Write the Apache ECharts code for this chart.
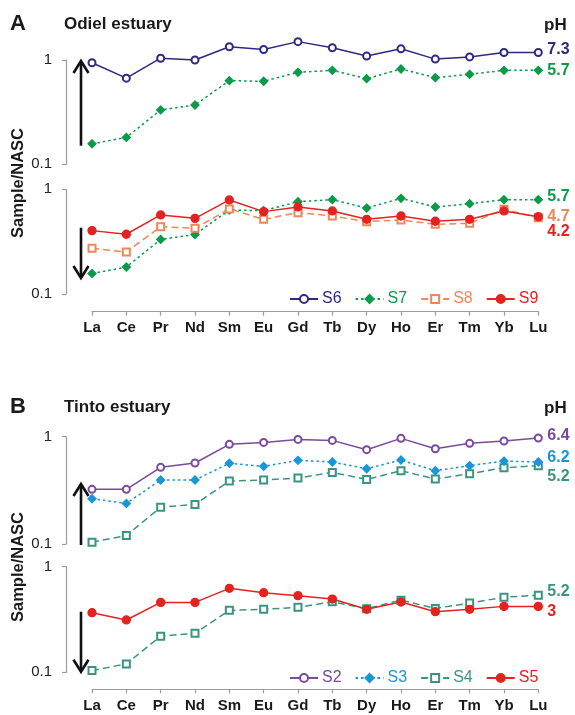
<!DOCTYPE html>
<html><head><meta charset="utf-8">
<script src="https://cdn.jsdelivr.net/npm/echarts@6/dist/echarts.min.js"></script>
<style>html,body{margin:0;padding:0;background:#fff}#c{width:575px;height:715px}</style>
</head><body><div id="c"></div>
<script>
const categories = ['La','Ce','Pr','Nd','Sm','Eu','Gd','Tb','Dy','Ho','Er','Tm','Yb','Lu'];
const yTicks = ['0.1','1'];
// Odiel estuary
const s6 = [0.94,0.67,1.04,1.00,1.34,1.26,1.50,1.31,1.09,1.28,1.02,1.07,1.18,1.18];
const s7 = [0.157,0.181,0.332,0.37,0.634,0.625,0.762,0.796,0.662,0.82,0.677,0.729,0.796,0.796];
const s8 = [0.273,0.252,0.44,0.424,0.649,0.517,0.598,0.556,0.491,0.509,0.463,0.473,0.644,0.536];
const s9 = [0.403,0.372,0.569,0.528,0.791,0.612,0.678,0.621,0.517,0.556,0.495,0.517,0.621,0.548];
// Tinto estuary
const s2 = [0.323,0.323,0.518,0.569,0.849,0.885,0.944,0.924,0.757,0.965,0.773,0.867,0.911,0.972];
const s3 = [0.264,0.239,0.395,0.395,0.565,0.529,0.602,0.581,0.503,0.606,0.482,0.537,0.593,0.581];
const s4 = [0.104,0.12,0.22,0.234,0.386,0.395,0.412,0.465,0.40,0.482,0.403,0.452,0.514,0.537];
const s5 = [0.367,0.313,0.459,0.459,0.624,0.567,0.532,0.494,0.395,0.463,0.375,0.395,0.421,0.421];
const phA = {S6:'7.3', S7:'5.7', S8:'4.7', S9:'4.2'};
const phB = {S2:'6.4', S3:'6.2', S4:'5.2', S5:'3'};

const FONT = "'Liberation Sans', Arial, sans-serif";
const C = {S6:'#2d2a80', S7:'#0b9a4a', S8:'#f0875a', S9:'#e3231f', S2:'#7a4a9c', S3:'#1896d8', S4:'#3a9482', S5:'#e3231f'};
const STY = {
  S6:{symbol:'emptyCircle', size:7, dash:'solid'},
  S2:{symbol:'emptyCircle', size:7, dash:'solid'},
  S7:{symbol:'diamond', size:8, dash:[2.5,3]},
  S3:{symbol:'diamond', size:8, dash:[2.5,3]},
  S8:{symbol:'emptyRect', size:7, dash:[7,4]},
  S4:{symbol:'emptyRect', size:7, dash:[7,4]},
  S9:{symbol:'circle', size:8, dash:'solid'},
  S5:{symbol:'circle', size:8, dash:'solid'}
};

const grids = [
  {left:92, width:446.3, top:60, height:104.3},
  {left:92, width:446.3, top:189.3, height:104.7},
  {left:92, width:446.3, top:436.7, height:107.3},
  {left:92, width:446.3, top:566.7, height:105.6}
];
const axisGray = '#9c9c9c';
const xAxes = grids.map((g,i)=>({
  type:'category', gridIndex:i, data:categories, boundaryGap:false,
  show: (i===1||i===3), position:'bottom', offset:(i===1?17.7:17),
  axisLine:{show:true, lineStyle:{color:axisGray, width:1.2}},
  axisTick:{show:true, length:4, lineStyle:{color:axisGray, width:1.2}},
  axisLabel:{fontFamily:FONT, fontWeight:'bold', fontSize:15, color:'#1a1a1a', margin:9, interval:0},
  splitLine:{show:false}
}));
const yAxes = grids.map((g,i)=>({
  type:'log', logBase:10, gridIndex:i, min:0.1, max:1, offset:26,
  axisLine:{show:true, lineStyle:{color:axisGray, width:1.2}},
  axisTick:{show:true, length:4, lineStyle:{color:axisGray, width:1.2}},
  axisLabel:{fontFamily:FONT, fontSize:15, color:'#222', margin:14,
    formatter:v=> (Math.abs(v-0.1)<1e-9? yTicks[0] : yTicks[1])},
  splitLine:{show:false}, minorTick:{show:false}
}));

function mk(name, data, gi, ph, dy){
  const st = STY[name];
  return {
    name, type:'line', data, xAxisIndex:gi, yAxisIndex:gi, clip:false,
    symbol:st.symbol, symbolSize:st.size, showSymbol:true,
    itemStyle:{color:C[name], borderColor:C[name], borderWidth:1.3},
    lineStyle:{color:C[name], width:1.5, type:st.dash},
    endLabel:{show:true, formatter:ph, color:C[name], fontFamily:FONT, fontWeight:'bold', fontSize:16, distance:9, offset:[0,dy]},
    emphasis:{disabled:true}, z:3
  };
}
const series = [
  mk('S7', s7, 0, phA.S7, 0),
  mk('S6', s6, 0, phA.S6, -3),
  mk('S7', s7, 1, phA.S7, -3),
  mk('S8', s8, 1, phA.S8, -1.5),
  mk('S9', s9, 1, phA.S9, 15),
  mk('S4', s4, 2, phB.S4, 11),
  mk('S3', s3, 2, phB.S3, -4),
  mk('S2', s2, 2, phB.S2, -2),
  mk('S4', s4, 3, phB.S4, -4),
  mk('S5', s5, 3, phB.S5, 5)
];

function legend(names, top){
  return {
    left:289, top:top, padding:0, itemWidth:28, itemHeight:10, itemGap:13,
    selectedMode:false,
    data: names.map(n=>({name:n, textStyle:{color:C[n]}})),
    textStyle:{fontFamily:FONT, fontSize:16, padding:[0,0,0,-1]}
  };
}

function arrow(x, y1, y2){
  const dir = y2 < y1 ? 1 : -1;
  return [
    {type:'line', shape:{x1:x,y1:y1,x2:x,y2:y2+dir*1}, style:{stroke:'#111', lineWidth:2.6}},
    {type:'polyline', shape:{points:[[x-7.5,y2+dir*12],[x,y2],[x+7.5,y2+dir*12]]}, style:{stroke:'#111', lineWidth:2.6, fill:null}}
  ];
}
function txt(x,y,t,size,weight){
  return {type:'text', x, y, style:{text:t, fontFamily:FONT, fontSize:size, fontWeight:weight, fill:'#1a1a1a', textVerticalAlign:'middle'}};
}
function ylab(y){
  return {type:'text', x:18.5, y:y, rotation:Math.PI/2, style:{text:'Sample/NASC', fontFamily:FONT, fontSize:16.5, fontWeight:'bold', fill:'#1a1a1a', textAlign:'center', textVerticalAlign:'middle'}};
}

const graphic = [
  txt(10,24,'A',22,'bold'),
  txt(64,24,'Odiel estuary',17,'bold'),
  txt(544,25,'pH',17,'bold'),
  txt(10,407,'B',22,'bold'),
  txt(64,407,'Tinto estuary',17,'bold'),
  txt(544,408,'pH',17,'bold'),
  ylab(183),
  ylab(567),
  ...arrow(81,145.7,61),
  ...arrow(81,227.7,278),
  ...arrow(81,545,484),
  ...arrow(81,611.7,671.7)
];

const chart = echarts.init(document.getElementById('c'), null, {renderer:'canvas'});
chart.setOption({
  animation:false, backgroundColor:'#fff',
  grid:grids, xAxis:xAxes, yAxis:yAxes, series,
  legend:[legend(['S6','S7','S8','S9'], 291), legend(['S2','S3','S4','S5'], 670)],
  graphic
});
</script></body></html>
